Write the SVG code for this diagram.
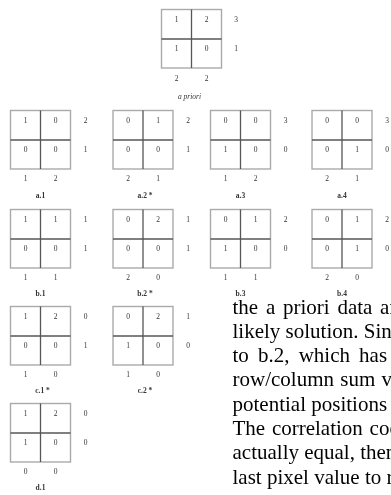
<svg xmlns="http://www.w3.org/2000/svg" width="391" height="495" viewBox="0 0 391 495">
<style>
.b{fill:#fff;stroke:#aaa;stroke-width:1.4}
.x{stroke:#555;stroke-width:1.3}
.n{font-family:"Liberation Serif",serif;font-size:7.5px;fill:#333;text-anchor:middle}
.l{font-family:"Liberation Serif",serif;font-size:7.5px;fill:#333;text-anchor:middle;font-weight:bold}
.p{font-family:"Liberation Serif",serif;font-size:21px;fill:#000}
.all{opacity:0.995}
</style>
<defs>
<g id="grid">
<rect class="b" x="0" y="0" width="60" height="58.5"/>
<line class="x" x1="30" y1="0" x2="30" y2="58.5"/>
<line class="x" x1="0" y1="29.5" x2="60" y2="29.5"/>
</g>
</defs>
<rect width="391" height="495" fill="#fff"/>
<g class="all">
<g id="apriori" transform="translate(161.5,9.5)">
<use href="#grid"/>
<text class="n" x="15" y="12.5">1</text><text class="n" x="45" y="12.5">2</text>
<text class="n" x="15" y="41.5">1</text><text class="n" x="45" y="41.5">0</text>
<text class="n" x="74.5" y="12.5">3</text><text class="n" x="74.5" y="41.5">1</text>
<text class="n" x="15" y="71">2</text><text class="n" x="45" y="71">2</text>
<text class="n" x="28" y="89" font-style="italic">a priori</text>
</g>
<g id="a1" transform="translate(10.5,110.5)">
<use href="#grid"/>
<text class="n" x="15" y="12.5">1</text><text class="n" x="45" y="12.5">0</text>
<text class="n" x="15" y="41.5">0</text><text class="n" x="45" y="41.5">0</text>
<text class="n" x="75" y="12.5">2</text><text class="n" x="75" y="41.5">1</text>
<text class="n" x="15" y="70.5">1</text><text class="n" x="45" y="70.5">2</text>
<text class="l" x="30" y="87">a.1</text>
</g>
<g id="a2" transform="translate(113,110.5)">
<use href="#grid"/>
<text class="n" x="15" y="12.5">0</text><text class="n" x="45" y="12.5">1</text>
<text class="n" x="15" y="41.5">0</text><text class="n" x="45" y="41.5">0</text>
<text class="n" x="75" y="12.5">2</text><text class="n" x="75" y="41.5">1</text>
<text class="n" x="15" y="70.5">2</text><text class="n" x="45" y="70.5">1</text>
<text class="l" x="32" y="87">a.2 *</text>
</g>
<g id="a3" transform="translate(210.5,110.5)">
<use href="#grid"/>
<text class="n" x="15" y="12.5">0</text><text class="n" x="45" y="12.5">0</text>
<text class="n" x="15" y="41.5">1</text><text class="n" x="45" y="41.5">0</text>
<text class="n" x="75" y="12.5">3</text><text class="n" x="75" y="41.5">0</text>
<text class="n" x="15" y="70.5">1</text><text class="n" x="45" y="70.5">2</text>
<text class="l" x="30" y="87">a.3</text>
</g>
<g id="a4" transform="translate(312,110.5)">
<use href="#grid"/>
<text class="n" x="15" y="12.5">0</text><text class="n" x="45" y="12.5">0</text>
<text class="n" x="15" y="41.5">0</text><text class="n" x="45" y="41.5">1</text>
<text class="n" x="75" y="12.5">3</text><text class="n" x="75" y="41.5">0</text>
<text class="n" x="15" y="70.5">2</text><text class="n" x="45" y="70.5">1</text>
<text class="l" x="30" y="87">a.4</text>
</g>
<g id="b1" transform="translate(10.5,209.5)">
<use href="#grid"/>
<text class="n" x="15" y="12.5">1</text><text class="n" x="45" y="12.5">1</text>
<text class="n" x="15" y="41.5">0</text><text class="n" x="45" y="41.5">0</text>
<text class="n" x="75" y="12.5">1</text><text class="n" x="75" y="41.5">1</text>
<text class="n" x="15" y="70.5">1</text><text class="n" x="45" y="70.5">1</text>
<text class="l" x="30" y="86.5">b.1</text>
</g>
<g id="b2" transform="translate(113,209.5)">
<use href="#grid"/>
<text class="n" x="15" y="12.5">0</text><text class="n" x="45" y="12.5">2</text>
<text class="n" x="15" y="41.5">0</text><text class="n" x="45" y="41.5">0</text>
<text class="n" x="75" y="12.5">1</text><text class="n" x="75" y="41.5">1</text>
<text class="n" x="15" y="70.5">2</text><text class="n" x="45" y="70.5">0</text>
<text class="l" x="32" y="86.5">b.2 *</text>
</g>
<g id="b3" transform="translate(210.5,209.5)">
<use href="#grid"/>
<text class="n" x="15" y="12.5">0</text><text class="n" x="45" y="12.5">1</text>
<text class="n" x="15" y="41.5">1</text><text class="n" x="45" y="41.5">0</text>
<text class="n" x="75" y="12.5">2</text><text class="n" x="75" y="41.5">0</text>
<text class="n" x="15" y="70.5">1</text><text class="n" x="45" y="70.5">1</text>
<text class="l" x="30" y="86.5">b.3</text>
</g>
<g id="b4" transform="translate(312,209.5)">
<use href="#grid"/>
<text class="n" x="15" y="12.5">0</text><text class="n" x="45" y="12.5">1</text>
<text class="n" x="15" y="41.5">0</text><text class="n" x="45" y="41.5">1</text>
<text class="n" x="75" y="12.5">2</text><text class="n" x="75" y="41.5">0</text>
<text class="n" x="15" y="70.5">2</text><text class="n" x="45" y="70.5">0</text>
<text class="l" x="30" y="86.5">b.4</text>
</g>
<g id="c1" transform="translate(10.5,306.5)">
<use href="#grid"/>
<text class="n" x="15" y="12.5">1</text><text class="n" x="45" y="12.5">2</text>
<text class="n" x="15" y="41.5">0</text><text class="n" x="45" y="41.5">0</text>
<text class="n" x="75" y="12.5">0</text><text class="n" x="75" y="41.5">1</text>
<text class="n" x="15" y="70.5">1</text><text class="n" x="45" y="70.5">0</text>
<text class="l" x="32" y="86.5">c.1 *</text>
</g>
<g id="c2" transform="translate(113,306.5)">
<use href="#grid"/>
<text class="n" x="15" y="12.5">0</text><text class="n" x="45" y="12.5">2</text>
<text class="n" x="15" y="41.5">1</text><text class="n" x="45" y="41.5">0</text>
<text class="n" x="75" y="12.5">1</text><text class="n" x="75" y="41.5">0</text>
<text class="n" x="15" y="70.5">1</text><text class="n" x="45" y="70.5">0</text>
<text class="l" x="32" y="86.5">c.2 *</text>
</g>
<g id="d1" transform="translate(10.5,403.5)">
<use href="#grid"/>
<text class="n" x="15" y="12.5">1</text><text class="n" x="45" y="12.5">2</text>
<text class="n" x="15" y="41.5">1</text><text class="n" x="45" y="41.5">0</text>
<text class="n" x="75" y="12.5">0</text><text class="n" x="75" y="41.5">0</text>
<text class="n" x="15" y="70.5">0</text><text class="n" x="45" y="70.5">0</text>
<text class="l" x="30" y="86.5">d.1</text>
</g>
<g id="connectors"></g>
<g id="body">
<text class="p" x="232.5" y="313.5" word-spacing="2.5">the a priori data and</text>
<text class="p" x="232.5" y="337.8">likely solution. Since</text>
<text class="p" x="232.5" y="362" word-spacing="3.9">to b.2, which has the</text>
<text class="p" x="232.5" y="386.3" word-spacing="1">row/column sum values</text>
<text class="p" x="232.5" y="410.6">potential positions of</text>
<text class="p" x="232.5" y="434.9" word-spacing="1.5">The correlation coefficients</text>
<text class="p" x="232.5" y="459.2">actually equal, then</text>
<text class="p" x="232.5" y="483.5">last pixel value to reduce</text>
</g>
</g>
</svg>
